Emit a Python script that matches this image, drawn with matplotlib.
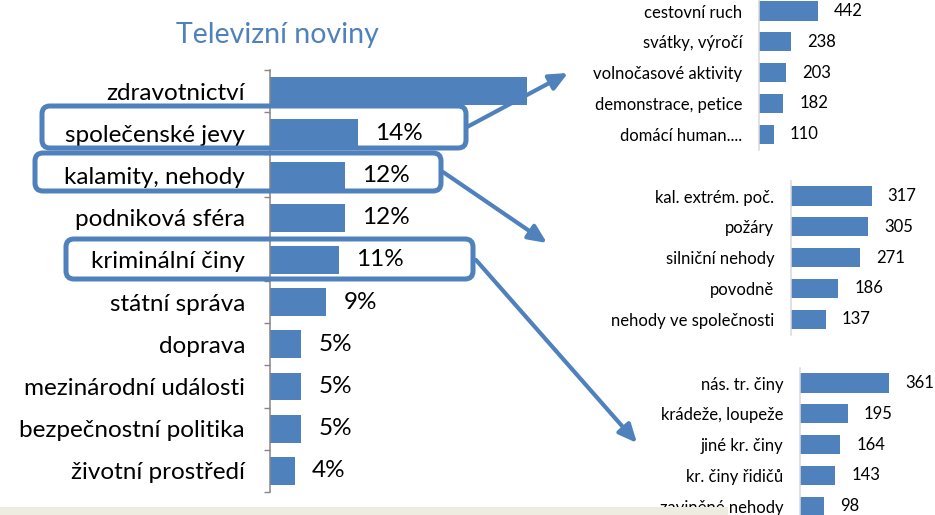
import matplotlib
matplotlib.use("Agg")
import matplotlib.pyplot as plt
import matplotlib.transforms as mtransforms
from matplotlib.patches import FancyBboxPatch, FancyArrowPatch, Rectangle
import numpy as np

# hlavni graf - Televizni noviny (podil v %)
main_cats = ["zdravotnictví", "společenské jevy", "kalamity, nehody", "podniková sféra",
             "kriminální činy", "státní správa", "doprava", "mezinárodní události",
             "bezpečnostní politika", "životní prostředí"]
main_vals = [41, 14, 12, 12, 11, 9, 5, 5, 5, 4]

# rozpad vybranych kategorii (pocty)
soc_cats = ["cestovní ruch", "svátky, výročí", "volnočasové aktivity",
            "demonstrace, petice", "domácí human...."]
soc_vals = [442, 238, 203, 182, 110]

kal_cats = ["kal. extrém. poč.", "požáry", "silniční nehody", "povodně",
            "nehody ve společnosti"]
kal_vals = [317, 305, 271, 186, 137]

krim_cats = ["nás. tr. činy", "krádeže, loupeže", "jiné kr. činy",
             "kr. činy řidičů", "zaviněné nehody"]
krim_vals = [361, 195, 164, 143, 98]

BLUE = "#4F81BD"
W, H = 935, 515
plt.rcParams["font.family"] = ["Lato", "DejaVu Sans"]

fig = plt.figure(figsize=(W / 100, H / 100), dpi=100)
px = mtransforms.Affine2D().scale(1, -1).translate(0, H)  # pixel coords, y down


def px_axes(left, top, width, height):
    return fig.add_axes([left / W, 1 - (top + height) / H, width / W, height / H])


def style_axes(ax, spine_color):
    for s in ["top", "right", "bottom"]:
        ax.spines[s].set_visible(False)
    ax.spines["left"].set_color(spine_color)
    ax.spines["left"].set_linewidth(1.1)
    ax.set_xticks([])
    ax.set_facecolor("none")


# --- main chart
ax = px_axes(270, 70, 257, 422)
y = np.arange(len(main_cats))
ax.barh(y, main_vals, height=0.66, color=BLUE)
ax.set_xlim(0, 41)
ax.set_ylim(len(main_cats) - 0.5, -0.5)
ax.set_yticks(y, main_cats, fontsize=17.5)
ax.set_yticks(np.arange(-0.5, len(main_cats), 1), minor=True)
ax.tick_params(axis="y", which="major", length=0, pad=18)
ax.tick_params(axis="y", which="minor", length=4.5, width=1, color="#868686")
style_axes(ax, "#868686")
for yi, v in zip(y, main_vals):
    t = ax.annotate(f"{v}%", (v, yi), xytext=(17, 0), textcoords="offset pixels",
                    ha="left", va="center", fontsize=17.5)
    t.set_clip_box(ax.bbox)
    t.set_clip_on(True)

fig.text(277 / W, 1 - 35 / H, "Televizní noviny", ha="center", va="center",
         fontsize=20.5, color=BLUE)


# --- small charts
def small_chart(left, top, scale, cats, vals):
    width = W - left
    a = px_axes(left, top, width, 154)
    yy = np.arange(len(cats))
    a.barh(yy, vals, height=0.62, color=BLUE)
    a.set_xlim(0, width / scale)
    a.set_ylim(len(cats) - 0.5, -0.5)
    a.set_yticks(yy, cats, fontsize=12)
    a.tick_params(axis="y", length=0, pad=12)
    style_axes(a, "#D9D9D9")
    for yi, v in zip(yy, vals):
        a.annotate(str(v), (v, yi), xytext=(16, 0), textcoords="offset pixels",
                   ha="left", va="center", fontsize=12)
    return a


small_chart(759, -4.4, 0.1335, soc_cats, soc_vals)
small_chart(791, 180.6, 0.254, kal_cats, kal_vals)
small_chart(800, 367.6, 0.2465, krim_cats, krim_vals)

# --- highlight boxes
boxes = [(42, 106, 424, 42), (35, 153, 406, 38), (66, 239, 407, 40)]
for bx, by, bw, bh in boxes:
    fig.patches.append(FancyBboxPatch((bx, by), bw, bh, boxstyle="round,pad=0,rounding_size=8",
                                      transform=px, fill=False, edgecolor=BLUE,
                                      linewidth=3.6, zorder=5))

# --- arrows
arrows = [((467, 127), (568, 73)), ((443, 172), (547, 243)), ((476, 260), (637, 443))]
for a0, a1 in arrows:
    fig.patches.append(FancyArrowPatch(a0, a1, transform=px, arrowstyle="-|>,head_length=1.1,head_width=0.5",
                                       mutation_scale=10, color=BLUE, linewidth=3,
                                       shrinkA=0, shrinkB=0, zorder=5))

# bottom strip
fig.patches.append(Rectangle((0, 507), 728, 10, transform=px, facecolor="#EEECE1",
                             edgecolor="none", zorder=10))

fig.savefig("out.png", dpi=100)
